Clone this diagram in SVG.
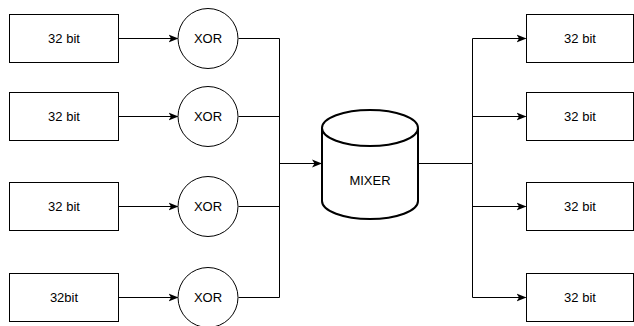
<svg xmlns="http://www.w3.org/2000/svg" width="634" height="326" viewBox="0 0 634 326">
<style>
.box{fill:#fff;stroke:#000;stroke-width:1}
.cyl{fill:#fff;stroke:#000;stroke-width:2}
.t{font-family:"Liberation Sans",Arial,sans-serif;font-size:13px;fill:#000;text-anchor:middle;dominant-baseline:central}
.c{fill:none;stroke:#000;stroke-width:1}
</style>
<defs>
<marker id="arr" viewBox="0 0 10 10" refX="9" refY="5" markerWidth="10" markerHeight="10" markerUnits="userSpaceOnUse" orient="auto">
<path d="M0,1 L10,5 L0,9 L2.5,5 Z" fill="#000"/>
</marker>
</defs>
<rect width="634" height="326" fill="#fff"/>
<g id="connectors">
<path class="c" d="M118.5,38.5 H177.5" marker-end="url(#arr)"/>
<path class="c" d="M118.5,116.5 H177.5" marker-end="url(#arr)"/>
<path class="c" d="M118.5,206.5 H177.5" marker-end="url(#arr)"/>
<path class="c" d="M118.5,297.5 H177.5" marker-end="url(#arr)"/>
<path class="c" d="M238.5,38.5 H279.5 V297.5 H238.5"/>
<path class="c" d="M238.5,116.5 H279.5"/>
<path class="c" d="M238.5,206.5 H279.5"/>
<path class="c" d="M279.5,163.5 H321" marker-end="url(#arr)"/>
<path class="c" d="M418,163.5 H472.5 V38.5"/>
<path class="c" d="M472.5,163.5 V297.5"/>
<path class="c" d="M472.5,38.5 H525.5" marker-end="url(#arr)"/>
<path class="c" d="M472.5,116.5 H525.5" marker-end="url(#arr)"/>
<path class="c" d="M472.5,206.5 H525.5" marker-end="url(#arr)"/>
<path class="c" d="M472.5,297.5 H525.5" marker-end="url(#arr)"/>
</g>
<g id="in1"><rect class="box" x="9.5" y="14.5" width="109" height="48"/><text class="t" x="64" y="38.5">32 bit</text></g>
<g id="in2"><rect class="box" x="9.5" y="92.5" width="109" height="48"/><text class="t" x="64" y="116.5">32 bit</text></g>
<g id="in3"><rect class="box" x="9.5" y="182.5" width="109" height="48"/><text class="t" x="64" y="206.5">32 bit</text></g>
<g id="in4"><rect class="box" x="9.5" y="273.5" width="109" height="48"/><text class="t" x="64" y="297.5">32bit</text></g>
<g id="xor1"><circle class="box" cx="208" cy="38.5" r="30"/><text class="t" x="208" y="38.5">XOR</text></g>
<g id="xor2"><circle class="box" cx="208" cy="116.5" r="30"/><text class="t" x="208" y="116.5">XOR</text></g>
<g id="xor3"><circle class="box" cx="208" cy="206.5" r="30"/><text class="t" x="208" y="206.5">XOR</text></g>
<g id="xor4"><circle class="box" cx="208" cy="297.5" r="30"/><text class="t" x="208" y="297.5">XOR</text></g>
<g id="mixer">
<path class="cyl" d="M322,128 A48,18 0 0 1 418,128 V201 A48,18 0 0 1 322,201 Z"/>
<path class="cyl" d="M322,128 A48,18 0 0 0 418,128" fill="none"/>
<text class="t" x="370" y="180">MIXER</text>
</g>
<g id="out1"><rect class="box" x="526.5" y="14.5" width="107" height="48"/><text class="t" x="580" y="38.5">32 bit</text></g>
<g id="out2"><rect class="box" x="526.5" y="92.5" width="107" height="48"/><text class="t" x="580" y="116.5">32 bit</text></g>
<g id="out3"><rect class="box" x="526.5" y="182.5" width="107" height="48"/><text class="t" x="580" y="206.5">32 bit</text></g>
<g id="out4"><rect class="box" x="526.5" y="273.5" width="107" height="48"/><text class="t" x="580" y="297.5">32 bit</text></g>
</svg>
